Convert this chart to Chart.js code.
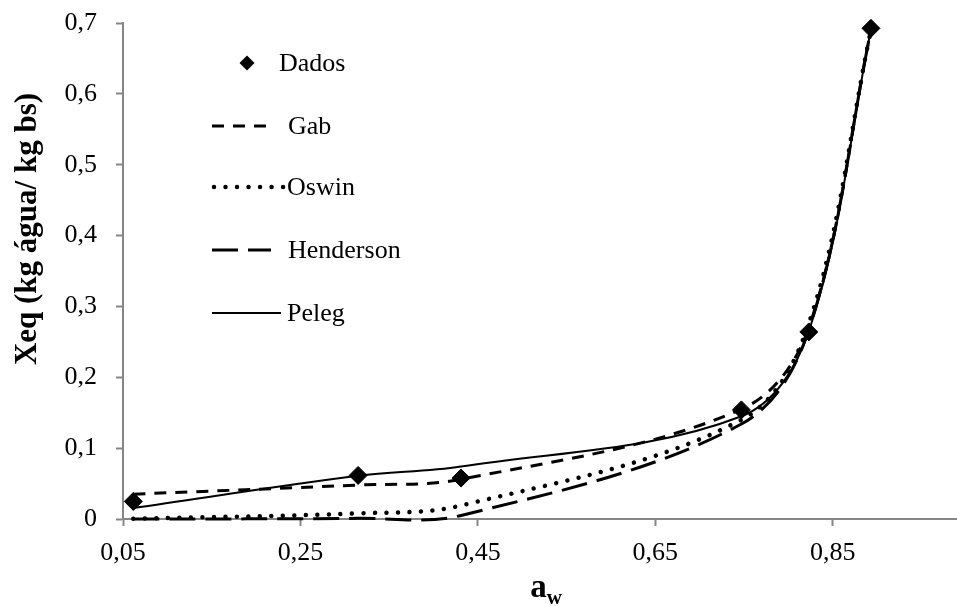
<!DOCTYPE html>
<html>
<head>
<meta charset="utf-8">
<script src="https://cdn.jsdelivr.net/npm/chart.js@4.4.1/dist/chart.umd.min.js"></script>
<style>
  html, body { margin: 0; padding: 0; background: #fff; }
  #wrap { width: 957px; height: 606px; }
</style>
</head>
<body>
<div id="wrap"><canvas id="myChart" width="957" height="606"></canvas></div>
<script>
"use strict";

// water activity where data and model values are given
const aw = [0.0616, 0.315, 0.431, 0.747, 0.823, 0.893];

const dados = [0.0248, 0.0615, 0.0578, 0.154, 0.264, 0.6925];
const gab = [0.035, 0.048, 0.056, 0.155, 0.27, 0.69];
const oswin = [0.0005, 0.008, 0.019, 0.14, 0.276, 0.69];
const henderson = [0.0, 0.001, 0.005, 0.134, 0.267, 0.69];
const peleg = [0.0155, 0.061, 0.074, 0.145, 0.265, 0.69];

const xTicks = [0.05, 0.25, 0.45, 0.65, 0.85];
const yTicks = [0, 0.1, 0.2, 0.3, 0.4, 0.5, 0.6, 0.7];

const FONT = "'Liberation Serif', 'Times New Roman', serif";
const AXIS_GRAY = "#868686";

function toPoints(values) {
  return values.map((v, i) => ({ x: aw[i], y: v }));
}

const models = [
  { label: "Gab", values: gab, dash: [12, 9], width: 3, cap: "butt" },
  { label: "Oswin", values: oswin, dash: [0.01, 11.5], width: 4.5, cap: "round" },
  { label: "Henderson", values: henderson, dash: [26, 10], width: 3, cap: "butt" },
  { label: "Peleg", values: peleg, dash: [], width: 2, cap: "butt" },
];

function getDataSet() {
  const dataSet = [];
  dataSet.push({
    label: "Dados",
    data: toPoints(dados),
    showLine: false,
    pointStyle: "rectRot",
    pointRadius: 9,
    pointBackgroundColor: "#000",
    pointBorderColor: "#000",
    pointBorderWidth: 1,
    clip: 12,
  });
  for (let m of models) {
    dataSet.push({
      label: m.label,
      data: toPoints(m.values),
      showLine: true,
      fill: false,
      tension: 0.35,
      borderColor: "#000",
      borderWidth: m.width,
      borderDash: m.dash,
      borderCapStyle: m.cap,
      pointRadius: 0,
      clip: 4,
    });
  }
  return dataSet;
}

// legend drawn inside the plot, plus the axis titles
const decorPlugin = {
  id: "decor",
  afterDraw(chart) {
    const ctx = chart.ctx;
    ctx.save();
    ctx.fillStyle = "#000";
    ctx.strokeStyle = "#000";

    // legend
    ctx.font = "26px " + FONT;
    ctx.textBaseline = "middle";
    ctx.textAlign = "left";

    // Dados diamond
    const dx = 247, dy = 63, r = 7.5;
    ctx.beginPath();
    ctx.moveTo(dx - r, dy);
    ctx.lineTo(dx, dy - r);
    ctx.lineTo(dx + r, dy);
    ctx.lineTo(dx, dy + r);
    ctx.closePath();
    ctx.fill();
    ctx.fillText("Dados", 279, dy + 1);

    const rows = [
      { y: 126, x2: 268, tx: 288 },
      { y: 187, x2: 284, tx: 287 },
      { y: 250, x2: 271, tx: 288 },
      { y: 313, x2: 281, tx: 287 },
    ];
    models.forEach((m, i) => {
      const row = rows[i];
      ctx.beginPath();
      ctx.lineWidth = m.width;
      ctx.setLineDash(m.dash);
      ctx.lineCap = m.cap;
      ctx.moveTo(m.cap === "round" ? 214 : 212, row.y);
      ctx.lineTo(row.x2, row.y);
      ctx.stroke();
      ctx.setLineDash([]);
      ctx.lineCap = "butt";
      ctx.fillText(m.label, row.tx, row.y + 1);
    });

    // y axis title
    ctx.save();
    ctx.translate(28, 229);
    ctx.rotate(-Math.PI / 2);
    ctx.font = "bold 31px " + FONT;
    ctx.textAlign = "center";
    ctx.textBaseline = "middle";
    ctx.fillText("Xeq (kg água/ kg bs)", 0, 0);
    ctx.restore();

    // x axis title: a with subscript w
    ctx.textBaseline = "alphabetic";
    ctx.textAlign = "left";
    ctx.font = "bold 33px " + FONT;
    const aW = ctx.measureText("a").width;
    ctx.font = "bold 21px " + FONT;
    const wW = ctx.measureText("w").width;
    const startX = 546 - (aW + wW) / 2;
    ctx.font = "bold 33px " + FONT;
    ctx.fillText("a", startX, 597);
    ctx.font = "bold 21px " + FONT;
    ctx.fillText("w", startX + aW, 604);

    ctx.restore();
  },
};

function noPad(scale) {
  scale.paddingTop = 0;
  scale.paddingBottom = 0;
  scale.paddingLeft = 0;
  scale.paddingRight = 0;
}

const ctx = document.getElementById("myChart").getContext("2d");

const config = {
  type: "scatter",
  data: {
    datasets: getDataSet(),
  },
  options: {
    responsive: false,
    animation: false,
    events: [],
    layout: {
      autoPadding: false,
      padding: { left: 0, right: 0, top: 23, bottom: 0 },
    },
    elements: {
      line: { capBezierPoints: false },
    },
    scales: {
      x: {
        type: "linear",
        min: 0.05,
        max: 0.99,
        afterBuildTicks: (scale) => {
          scale.ticks = xTicks.map((v) => ({ value: v }));
        },
        afterFit: (scale) => {
          scale.height = 87;
          noPad(scale);
        },
        border: { color: AXIS_GRAY, width: 2 },
        grid: {
          drawOnChartArea: false,
          drawTicks: true,
          tickLength: 7,
          tickColor: AXIS_GRAY,
          tickWidth: 2,
        },
        ticks: {
          color: "#000",
          font: { family: FONT, size: 26 },
          padding: 12,
          maxRotation: 0,
          autoSkip: false,
          callback: (v) => v.toFixed(2).replace(".", ","),
        },
      },
      y: {
        type: "linear",
        min: 0,
        max: 0.7,
        afterBuildTicks: (scale) => {
          scale.ticks = yTicks.map((v) => ({ value: v }));
        },
        afterFit: (scale) => {
          scale.width = 123;
          noPad(scale);
        },
        border: { color: AXIS_GRAY, width: 2 },
        grid: {
          drawOnChartArea: false,
          drawTicks: true,
          tickLength: 7,
          tickColor: AXIS_GRAY,
          tickWidth: 2,
        },
        ticks: {
          color: "#000",
          font: { family: FONT, size: 26 },
          padding: 19,
          callback: (v) => (v === 0 ? "0" : v.toFixed(1).replace(".", ",")),
        },
      },
    },
    plugins: {
      legend: { display: false },
      tooltip: { enabled: false },
      title: { display: false },
    },
  },
  plugins: [decorPlugin],
};

const chart = new Chart(ctx, config);
</script>
</body>
</html>
